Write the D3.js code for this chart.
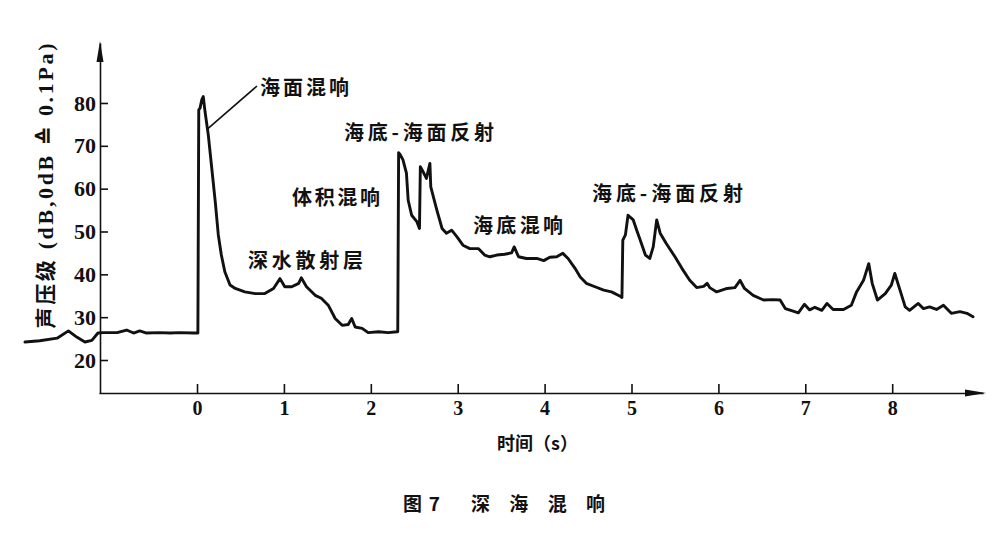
<!DOCTYPE html>
<meta charset="utf-8">
<style>
  body { margin: 0; background: #fff; }
  .axis path, .axis line { stroke: #111; stroke-width: 1.6px; }
  .trace { fill: none; stroke: #111; stroke-width: 2.9px; stroke-linejoin: round; stroke-linecap: round; }
  .note { font-family: "Noto Sans CJK SC", sans-serif; font-weight: bold; font-size: 20px; fill: #111; }
</style>
<body>
<svg id="chart"></svg>
<script src="https://cdn.jsdelivr.net/npm/d3@7"></script>
<script>
var width = 1000, height = 539;

// time (s) and sound pressure level (dB)
var times = [-1.98,-1.81,-1.61,-1.48,-1.38,-1.29,-1.21,-1.14,-1.08,-0.92,-0.81,-0.73,-0.66,-0.58,-0.43,-0.31,-0.20,-0.04,
  0.01,0.02,0.035,0.054,0.072,0.092,0.13,0.17,0.21,0.245,0.28,0.32,0.38,0.44,0.55,0.67,0.78,0.88,0.955,1.01,1.09,1.17,1.20,1.26,
  1.36,1.43,1.51,1.59,1.67,1.74,1.78,1.82,1.90,1.97,2.09,2.20,2.30,2.31,2.32,
  2.34,2.37,2.41,2.43,2.47,2.53,2.56,2.57,2.60,2.64,2.68,2.69,2.76,2.82,2.87,2.93,2.99,3.06,3.14,3.24,3.31,3.37,3.45,3.54,3.62,
  3.65,3.70,3.79,3.91,3.99,4.06,4.14,4.21,4.27,4.35,4.41,4.48,4.58,4.68,4.77,4.87,4.89,4.90,
  4.93,4.96,5.02,5.06,5.10,5.16,5.21,5.25,5.29,5.33,5.40,5.50,5.58,5.67,5.75,5.83,5.87,5.90,5.98,6.10,6.19,6.25,6.30,6.40,6.52,
  6.63,6.71,6.77,6.86,6.92,6.99,7.05,7.11,7.19,7.25,7.32,7.44,7.53,7.59,7.67,7.73,7.77,7.83,7.92,7.99,8.03,8.09,8.15,8.20,8.30,
  8.36,8.43,8.51,8.59,8.68,8.78,8.86,8.93];
var levels = [24.2,24.5,25.1,26.8,25.3,24.2,24.6,26.3,26.4,26.4,27.0,26.3,26.8,26.3,26.4,26.3,26.4,26.3,
  26.3,78.4,78.8,80.7,81.5,78.0,72.5,64.7,56.9,49.2,44.5,40.6,37.5,36.7,35.9,35.5,35.5,36.7,39.0,37.1,37.1,37.9,39.2,37.1,
  35.1,34.4,32.8,29.7,28.1,28.3,29.7,27.7,27.4,26.4,26.6,26.4,26.6,26.6,68.4,
  67.9,66.7,63.6,57.3,53.8,52.3,50.7,65.1,64.0,62.4,65.9,60.4,55.0,50.7,49.6,50.3,48.8,46.8,46.0,46.0,44.5,44.1,44.5,44.7,45.0,
  46.4,44.1,43.7,43.7,43.2,44.0,44.1,44.9,43.7,41.4,39.4,37.9,37.1,36.3,35.9,34.9,34.6,48.0,
  49.2,53.8,52.7,50.3,48.0,44.5,43.7,46.4,52.7,49.6,47.2,44.1,41.4,38.6,36.9,37.2,37.9,36.9,35.9,36.7,36.9,38.6,36.7,35.1,34.0,
  34.1,34.0,32.0,31.4,31.0,33.0,31.7,32.3,31.6,33.2,31.8,31.8,32.8,35.9,38.6,42.5,37.9,34.0,35.5,37.5,40.2,36.3,32.4,31.6,33.2,
  32.0,32.4,31.8,32.8,30.9,31.3,30.9,30.1];

var xTicks = [0, 1, 2, 3, 4, 5, 6, 7, 8];
var yTicks = [20, 30, 40, 50, 60, 70, 80];

var notes = ["海面混响", "海底-海面反射", "体积混响", "深水散射层", "海底混响", "海底-海面反射"];
// label placement: left, baseline, width (px)
var noteBoxes = [[260, 95, 89], [344, 140, 150], [292, 205, 88], [248, 268, 115], [473, 233, 90], [592, 201, 151]];
// leader for 海面混响 points at this spot on the trace
var leaderAt = [0.125, 74];

var x = d3.scaleLinear().domain([-1.128, 9.045]).range([99, 983]);
var y = d3.scaleLinear().domain([12.3, 94]).range([393, 43]);

var svg = d3.select("#chart").attr("width", width).attr("height", height);

// axes
var gx = svg.append("g").attr("class", "axis").attr("transform", "translate(0,393)")
  .call(d3.axisBottom(x).tickValues(xTicks).tickSizeInner(-9).tickSizeOuter(0).tickPadding(7.5));
gx.selectAll("text")
  .style("font-family", "'Liberation Serif', serif")
  .style("font-weight", "bold")
  .style("font-size", "20px")
  .attr("fill", "#111");

var gy = svg.append("g").attr("class", "axis").attr("transform", "translate(100,0)")
  .call(d3.axisLeft(y).tickValues(yTicks).tickSizeInner(-8).tickSizeOuter(0).tickPadding(4));
gy.selectAll("text")
  .style("font-family", "'Liberation Serif', serif")
  .style("font-weight", "bold")
  .style("font-size", "22px")
  .attr("fill", "#111");

// arrow heads
svg.append("path").attr("d", "M100,41L96.5,62L103.5,62Z").attr("fill", "#111");
svg.append("path").attr("d", "M986,393L965,389.5L965,396.5Z").attr("fill", "#111");

// trace
var pts = times.map(function (t, i) { return [t, levels[i]]; });
svg.append("path")
  .datum(pts)
  .attr("class", "trace")
  .attr("d", d3.line().x(function (d) { return x(d[0]); }).y(function (d) { return y(d[1]); }));

// labels
svg.selectAll(".note")
  .data(notes)
  .enter().append("text")
  .attr("class", "note")
  .attr("x", function (d, i) { return noteBoxes[i][0]; })
  .attr("y", function (d, i) { return noteBoxes[i][1]; })
  .attr("textLength", function (d, i) { return noteBoxes[i][2]; })
  .attr("lengthAdjust", "spacing")
  .text(function (d) { return d; });

svg.append("line")
  .attr("x1", 257).attr("y1", 86)
  .attr("x2", x(leaderAt[0])).attr("y2", y(leaderAt[1]))
  .attr("stroke", "#111").attr("stroke-width", 1.6);

// axis titles
var yt = svg.append("text")
  .attr("transform", "translate(53,186)rotate(-90)")
  .attr("text-anchor", "middle")
  .attr("textLength", 285)
  .attr("lengthAdjust", "spacing")
  .style("font-weight", "bold").attr("fill", "#111");
yt.append("tspan").style("font-family", "'Noto Sans CJK SC', sans-serif").style("font-size", "21px").text("声压级");
yt.append("tspan").style("font-family", "'Liberation Serif', serif").style("font-size", "22px").text(" (dB,0dB ≙ 0.1Pa)");

svg.append("text")
  .attr("x", 497).attr("y", 450)
  .attr("class", "note").style("font-size", "18px")
  .text("时间（s）");

// caption
svg.append("text")
  .attr("x", 403).attr("y", 511)
  .attr("class", "note").style("font-size", "19px")
  .attr("textLength", 37).attr("lengthAdjust", "spacing")
  .text("图7");
svg.append("text")
  .attr("x", 471).attr("y", 511)
  .attr("class", "note").style("font-size", "19px")
  .attr("textLength", 134).attr("lengthAdjust", "spacing")
  .text("深海混响");
</script>
